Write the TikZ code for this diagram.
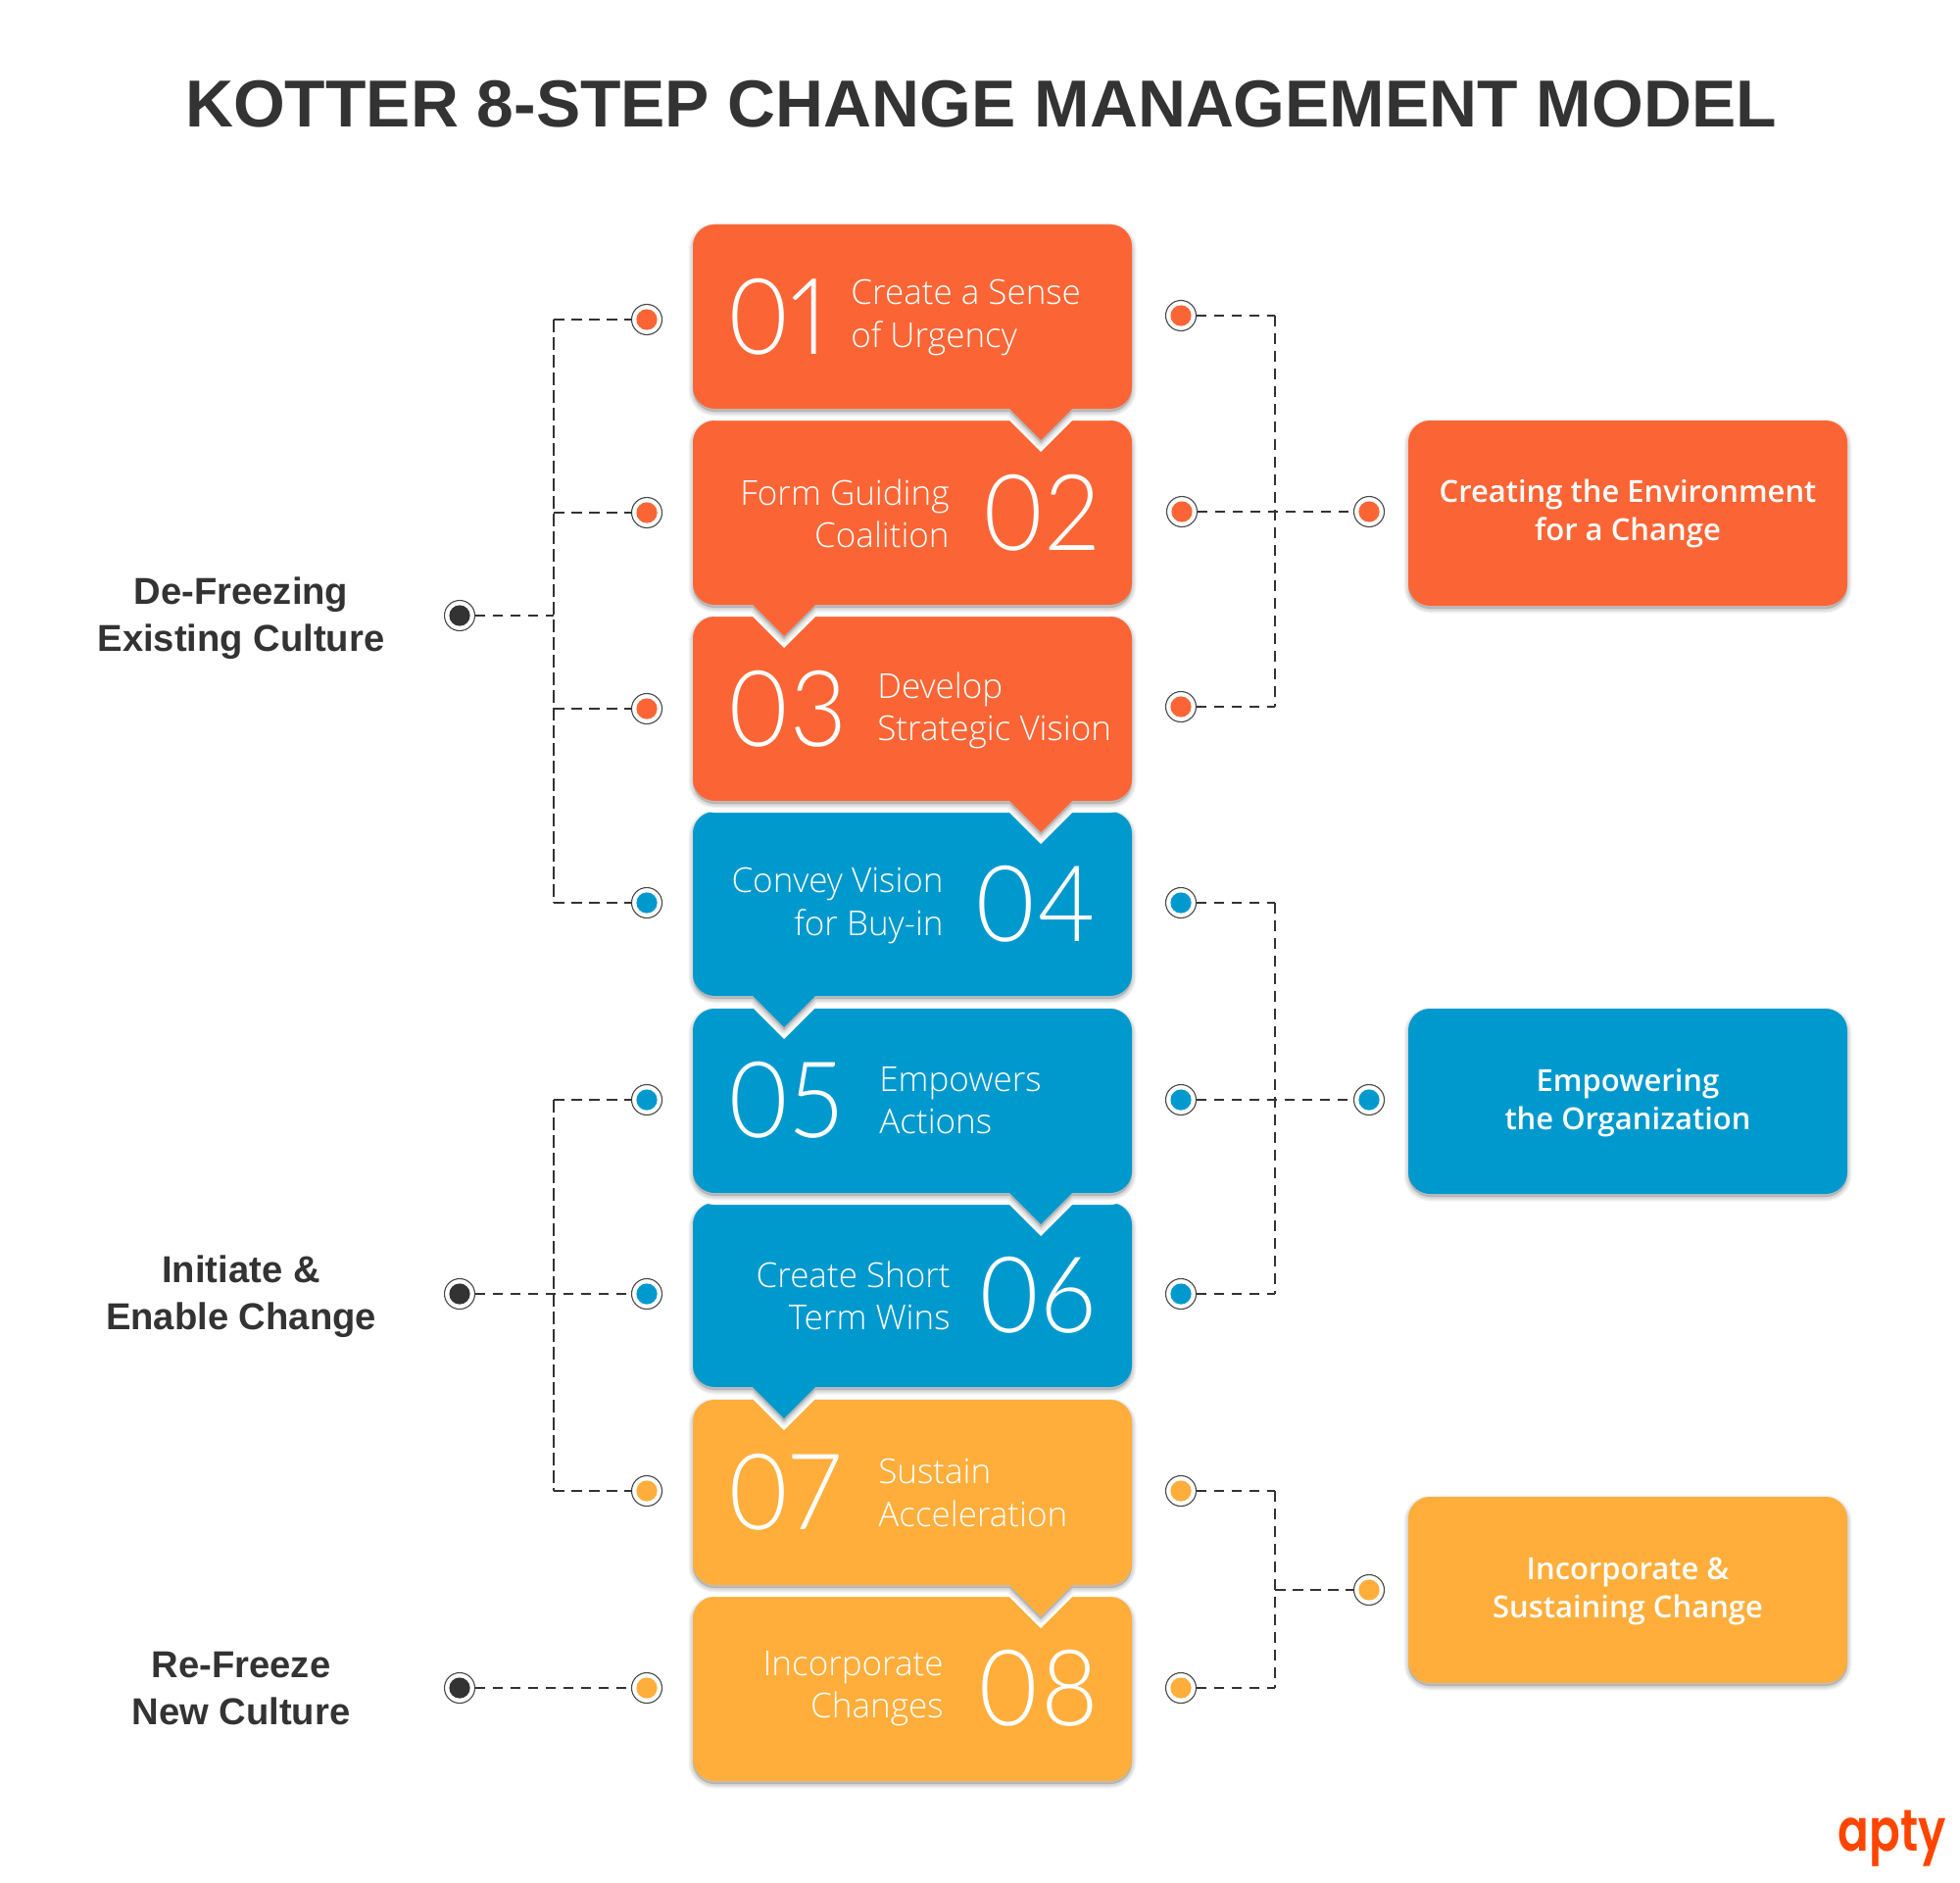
\documentclass[tikz,border=0pt]{standalone}
\usepackage{fontspec}
\setmainfont{Liberation Sans}
\newfontfamily\labelfont{Open Sans Light}
\newfontfamily\numfont{Lato Light}[Numbers=Proportional,FakeStretch=0.93]
\newfontfamily\headfont{Open Sans Semibold}
\newfontfamily\titlefont{Liberation Sans}[BoldFont={Liberation Sans Bold}]
\newfontfamily\logofont{Poppins SemiBold}[FakeStretch=0.78]
\definecolor{co}{HTML}{FB6535}
\definecolor{cb}{HTML}{0099CE}
\definecolor{ca}{HTML}{FFAE3B}
\definecolor{dk}{HTML}{333333}
\definecolor{lg}{HTML}{FF4500}
\newcommand{\roundpath}[5]{% left right top bottom pointerpart
  (#1+22,#3) -- (#2-22,#3) .. controls (#2-10,#3) and (#2,#3+10) .. (#2,#3+22)
  -- (#2,#4-22) .. controls (#2,#4-10) and (#2-10,#4) .. (#2-22,#4)
  #5
  -- (#1+22,#4) .. controls (#1+10,#4) and (#1,#4-10) .. (#1,#4-22)
  -- (#1,#3+22) .. controls (#1,#3+10) and (#1+10,#3) .. (#1+22,#3) -- cycle}
\newcommand{\softbox}[6]{% left right top bottom color pointer
  \begin{scope}[yshift=-6pt]\fill[white] \roundpath{#1}{#2}{#3}{#4}{#6};\end{scope}
  \begin{scope}[yshift=-1.5pt]
    \fill[black,opacity=.16] \roundpath{#1}{#2}{#3}{#4}{#6};
    \foreach \w in {4.5,3.5,2.5,1.5}{\draw[black,opacity=.04,line width=\w pt,line join=round] \roundpath{#1}{#2}{#3}{#4}{#6};}
  \end{scope}
  \fill[#5] \roundpath{#1}{#2}{#3}{#4}{#6};}
\newcommand{\ptr}[2]{-- (#1+32,#2) -- (#1,#2+32) -- (#1-32,#2)}
\newcommand{\ringdot}[4]{% name x y color
  \node[ringstyle] (#1) at (#2,#3) {};
  \node[corestyle,fill=#4] (#1c) at (#2,#3) {};}
\tikzset{
  x=0.5pt,y=-0.5pt,
  ringstyle/.style={circle,draw=dk!90,line width=.55pt,fill=white,minimum size=15.5pt,inner sep=0pt,outer sep=0pt},
  corestyle/.style={circle,minimum size=10.6pt,inner sep=0pt,outer sep=0pt},
  conn/.style={dk,line width=.85pt,dash pattern=on 5.3pt off 3.7pt},
  trunkl/.style={dk,line width=.85pt,dash pattern=on 6.5pt off 2.5pt},
  trunkr/.style={dk,line width=.85pt,dash pattern=on 5.5pt off 3.5pt},
  connthin/.style={dk,line width=.55pt,dash pattern=on 5.3pt off 3.7pt},
  steplabel/.style={text=white,font=\labelfont\fontsize{17.5}{21.6}\selectfont,inner sep=0pt},
  stepnum/.style={text=white,font=\numfont\fontsize{54}{54}\selectfont,inner sep=0pt},
  headlabel/.style={text=white,font=\headfont\fontsize{15.5}{19.5}\selectfont,align=center,inner sep=0pt},
  sidelabel/.style={text=dk,font=\titlefont\bfseries\fontsize{19.1}{24}\selectfont,align=center,inner sep=0pt},
}
\begin{document}
\begin{tikzpicture}
\useasboundingbox (0,0) rectangle (2000,1920);
\fill[white] (0,0) rectangle (2000,1920);
% step boxes, drawn from the bottom up
\softbox{707}{1155}{1629}{1817}{ca}{}
\softbox{707}{1155}{1428}{1617}{ca}{\ptr{1062}{1617}}
\softbox{707}{1155}{1227}{1415}{cb}{\ptr{800}{1415}}
\softbox{707}{1155}{1029}{1217}{cb}{\ptr{1062}{1217}}
\softbox{707}{1155}{828}{1016}{cb}{\ptr{800}{1016}}
\softbox{707}{1155}{629}{817}{co}{\ptr{1062}{817}}
\softbox{707}{1155}{429}{617}{co}{\ptr{800}{617}}
\softbox{707}{1155}{229}{417}{co}{\ptr{1062}{417}}
% right boxes
\softbox{1437}{1885}{429}{618}{co}{}
\softbox{1437}{1885}{1029}{1218}{cb}{}
\softbox{1437}{1885}{1527}{1717}{ca}{}
% title
\node[text=dk,font=\titlefont\bfseries\fontsize{33.9}{40}\selectfont,inner sep=0pt] (title) at (1001,106) {KOTTER 8-STEP CHANGE MANAGEMENT MODEL};
% numbers
\node[stepnum,anchor=west] (n1) at (741,323) {01};
\node[stepnum,anchor=east] (n2) at (1123,523) {02};
\node[stepnum,anchor=west] (n3) at (741,723) {03};
\node[stepnum,anchor=east] (n4) at (1119,922) {04};
\node[stepnum,anchor=west] (n5) at (741,1122) {05};
\node[stepnum,anchor=east] (n6) at (1119,1321) {06};
\node[stepnum,anchor=west] (n7) at (741,1522) {07};
\node[stepnum,anchor=east] (n8) at (1121,1722) {08};
% step labels
\node[steplabel,anchor=west,align=left] (l1) at (868,324) {Create a Sense\\of Urgency};
\node[steplabel,anchor=east,align=right] (l2) at (969,524) {Form Guiding\\Coalition};
\node[steplabel,anchor=west,align=left] (l3) at (895,725) {Develop\\Strategic Vision};
\node[steplabel,anchor=east,align=right] (l4) at (963,924) {Convey Vision\\for Buy-in};
\node[steplabel,anchor=west,align=left] (l5) at (897,1123) {Empowers\\Actions};
\node[steplabel,anchor=east,align=right] (l6) at (970,1322) {Create Short\\Term Wins};
\node[steplabel,anchor=west,align=left] (l7) at (896,1523) {Sustain\\Acceleration};
\node[steplabel,anchor=east,align=right] (l8) at (963,1723) {Incorporate\\Changes};
% right box labels
\node[headlabel] (h1) at (1661,524) {Creating the Environment\\for a Change};
\node[headlabel] (h2) at (1661,1125) {Empowering\\the Organization};
\node[headlabel] (h3) at (1661,1623) {Incorporate \&\\Sustaining Change};
% left labels
\node[sidelabel] (s1) at (246,631) {De-Freezing\\Existing Culture};
\node[sidelabel] (s2) at (246,1323) {Initiate \&\\Enable Change};
\node[sidelabel] (s3) at (246,1723) {Re-Freeze\\New Culture};
% logo
\node[text=lg,font=\logofont\fontsize{30}{30}\selectfont,inner sep=0pt,anchor=base east] (logo) at (1986,1888) {apty};
% connector anchors
\coordinate (lt1) at (565,326);
\coordinate (lt2) at (565,523);
\coordinate (lt3) at (565,723);
\coordinate (lt4) at (565,921);
\coordinate (lb) at (565,628);
\coordinate (lt5) at (565,1122);
\coordinate (lt6) at (565,1320);
\coordinate (lt7) at (565,1521);
\coordinate (rt1) at (1301,322);
\coordinate (rt3) at (1301,721);
\coordinate (rt4) at (1301,921);
\coordinate (rt6) at (1301,1320);
\coordinate (rt7) at (1301,1521);
\coordinate (rt8) at (1301,1722);
\coordinate (rt9) at (1301,1622);
% connectors
\draw[trunkl] (lt1) -- (lt4);
\draw[trunkl] (lt5) -- (lt7);
\draw[trunkr] (rt1) -- (rt3);
\draw[trunkr] (rt4) -- (rt6);
\draw[trunkr] (rt7) -- (rt8);
\ringdot{a1}{660}{326}{co}
\ringdot{a2}{660}{523}{co}
\ringdot{a3}{660}{723}{co}
\ringdot{a4}{660}{921}{cb}
\ringdot{a5}{660}{1122}{cb}
\ringdot{a6}{660}{1320}{cb}
\ringdot{a7}{660}{1521}{ca}
\ringdot{a8}{660}{1722}{ca}
\ringdot{b1}{1205}{322}{co}
\ringdot{b2}{1206}{522}{co}
\ringdot{b3}{1205}{721}{co}
\ringdot{b4}{1205}{921}{cb}
\ringdot{b5}{1205}{1122}{cb}
\ringdot{b6}{1205}{1320}{cb}
\ringdot{b7}{1205}{1521}{ca}
\ringdot{b8}{1205}{1722}{ca}
\ringdot{c1}{1397}{522}{co}
\ringdot{c2}{1397}{1122}{cb}
\ringdot{c3}{1397}{1622}{ca}
\ringdot{k1}{469}{628}{dk}
\ringdot{k2}{469}{1320}{dk}
\ringdot{k3}{469}{1722}{dk}
\draw[conn] (lt1) -- (a1.west);
\draw[conn] (lt2) -- (a2.west);
\draw[conn] (lt3) -- (a3.west);
\draw[conn] (lt4) -- (a4.west);
\draw[conn] (lt5) -- (a5.west);
\draw[conn] (k2.east) -- (a6.west);
\draw[conn] (lt7) -- (a7.west);
\draw[conn] (k3.east) -- (a8.west);
\draw[conn] (k1.east) -- (lb);
\draw[connthin] (b1.east) -- (rt1);
\draw[conn] (b2.east) -- (c1.west);
\draw[connthin] (b3.east) -- (rt3);
\draw[conn] (b4.east) -- (rt4);
\draw[conn] (b5.east) -- (c2.west);
\draw[conn] (b6.east) -- (rt6);
\draw[conn] (b7.east) -- (rt7);
\draw[connthin] (b8.east) -- (rt8);
\draw[connthin] (rt9) -- (c3.west);
\end{tikzpicture}
\end{document}
